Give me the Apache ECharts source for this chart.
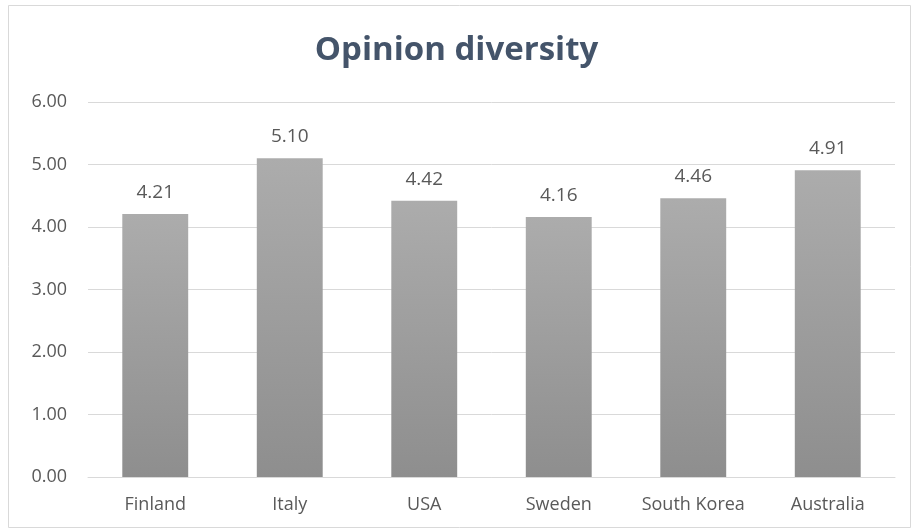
<!DOCTYPE html>
<html>
<head>
<meta charset="utf-8">
<script src="https://cdn.jsdelivr.net/npm/echarts@6/dist/echarts.min.js"></script>
<style>
  html, body { margin: 0; padding: 0; background: #fff; }
  #chart { width: 913px; height: 532px; }
</style>
</head>
<body>
<div id="chart"></div>
<script>
// 数据
var countries = ['Finland', 'Italy', 'USA', 'Sweden', 'South Korea', 'Australia'];
var scores = [4.21, 5.10, 4.42, 4.16, 4.46, 4.91];

var myChart = echarts.init(document.getElementById('chart'));

var option = {
	backgroundColor: '#ffffff',
	title: {
		text: 'Opinion diversity',
		left: 'center',
		top: 29,
		textStyle: {
			color: '#44546A',
			fontFamily: 'Open Sans',
			fontWeight: 'bold',
			fontSize: 33
		}
	},
	graphic: [{ //外框
		type: 'rect',
		shape: { x: 8.5, y: 5.5, width: 902, height: 522 },
		style: { fill: 'none', stroke: '#D9D9D9', lineWidth: 1 },
		silent: true
	}],
	grid: {
		left: 88,
		right: 18,
		top: 102,
		bottom: 55
	},
	xAxis: {
		type: 'category',
		data: countries,
		axisLine: { show: true, lineStyle: { color: '#D9D9D9' } },
		axisTick: { show: false },
		axisLabel: {
			color: '#595959',
			fontFamily: 'Open Sans',
			fontSize: 18,
			margin: 19
		}
	},
	yAxis: {
		type: 'value',
		min: 0,
		max: 6,
		interval: 1,
		axisLine: { show: false },
		axisTick: { show: false },
		splitLine: { lineStyle: { color: '#D9D9D9' } },
		axisLabel: {
			color: '#595959',
			fontFamily: 'Open Sans',
			fontSize: 18,
			margin: 21,
			formatter: function (v) { return v.toFixed(2); }
		}
	},
	series: [{
		type: 'bar',
		data: scores,
		barWidth: '49%',
		itemStyle: {
			color: new echarts.graphic.LinearGradient(0, 0, 0, 1, [
				{ offset: 0, color: '#ACACAC' },
				{ offset: 1, color: '#8E8E8E' }
			])
		},
		label: {
			show: true,
			position: 'top',
			distance: 12,
			color: '#595959',
			fontFamily: 'Open Sans',
			fontSize: 19,
			formatter: function (p) { return p.value.toFixed(2); }
		}
	}]
};

myChart.setOption(option);
</script>
</body>
</html>
